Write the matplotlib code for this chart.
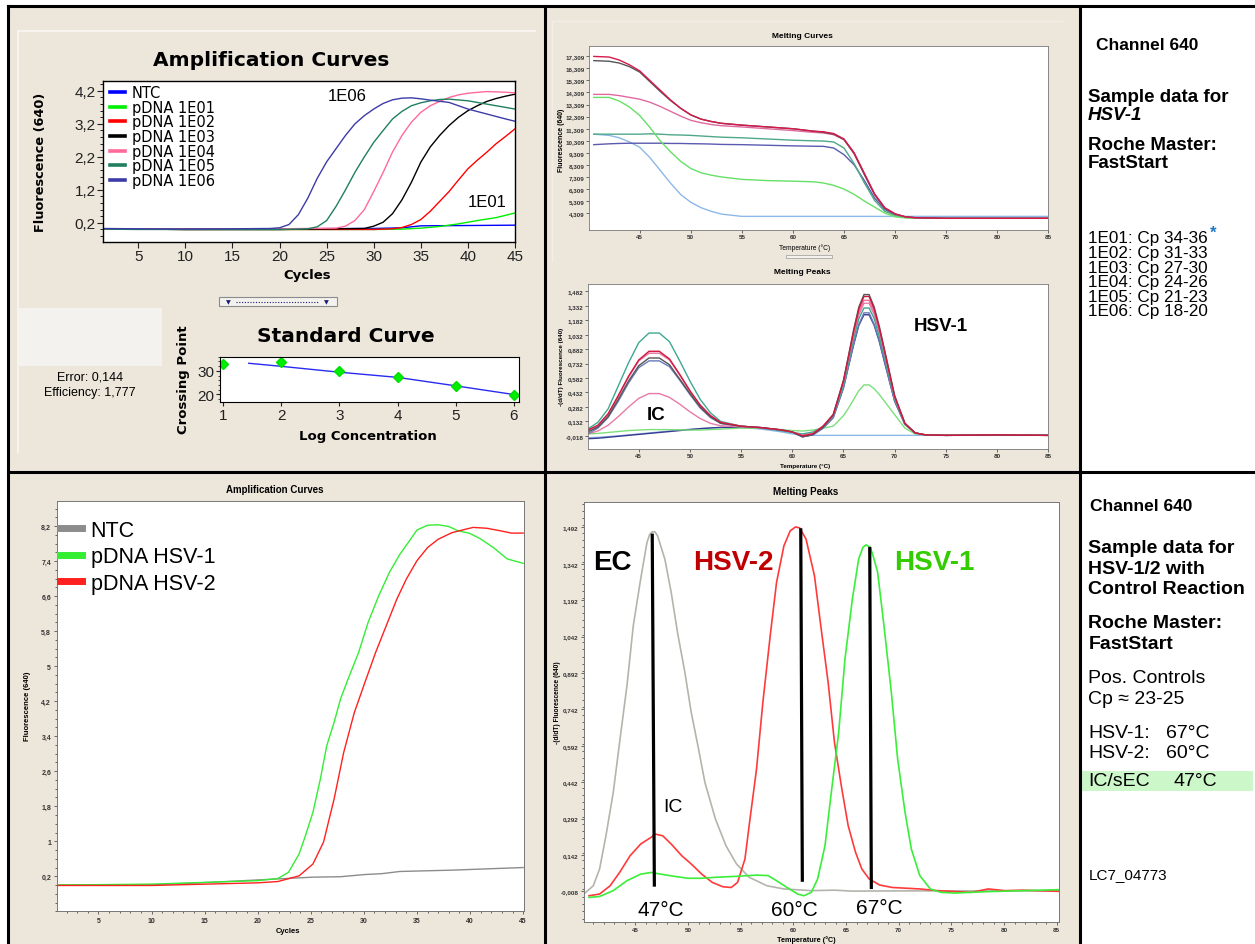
import matplotlib
matplotlib.use("Agg")
import matplotlib.pyplot as plt
from matplotlib.patches import Rectangle
from matplotlib.lines import Line2D
from matplotlib.ticker import MultipleLocator

plt.rcParams['font.family'] = ['Liberation Sans', 'DejaVu Sans']

# ---------------- DATA ----------------
# Top-left amplification curves (cycles, fluorescence)
AMP1_LABELS = ["NTC", "pDNA 1E01", "pDNA 1E02", "pDNA 1E03", "pDNA 1E04", "pDNA 1E05", "pDNA 1E06"]
AMP1_NTC_X = [1, 10, 20, 30, 33, 34, 35, 45]
AMP1_NTC_Y = [0.02, 0.02, 0.02, 0.03, 0.05, 0.08, 0.11, 0.13]
AMP1_E01_X = [1, 10, 20, 30, 33, 35, 37, 39, 41, 43, 45]
AMP1_E01_Y = [0.02, 0.0, 0.0, 0.0, 0.01, 0.04, 0.09, 0.17, 0.27, 0.36, 0.5]
AMP1_E02_X = [1, 10, 20, 30, 32, 33, 34, 35, 36, 37, 38, 39, 40, 41, 42, 43, 44, 45]
AMP1_E02_Y = [0.02, 0.0, 0.0, 0.0, 0.02, 0.06, 0.15, 0.3, 0.55, 0.85, 1.15, 1.5, 1.84, 2.1, 2.34, 2.6, 2.82, 3.05]
AMP1_E03_X = [1, 10, 20, 29, 30, 31, 32, 33, 34, 35, 36, 37, 38, 39, 40, 41, 42, 43, 44, 45]
AMP1_E03_Y = [0.02, 0.0, 0.0, 0.03, 0.1, 0.22, 0.48, 0.9, 1.43, 2.04, 2.5, 2.85, 3.15, 3.4, 3.6, 3.75, 3.88, 3.97, 4.04, 4.1]
AMP1_E04_X = [1, 10, 20, 26, 27, 28, 29, 30, 31, 32, 33, 34, 35, 36, 37, 38, 39, 40, 42, 44, 45]
AMP1_E04_Y = [0.02, 0.01, 0.02, 0.04, 0.1, 0.27, 0.6, 1.15, 1.73, 2.35, 2.85, 3.25, 3.55, 3.75, 3.88, 4.0, 4.08, 4.13, 4.18, 4.16, 4.14]
AMP1_E05_X = [1, 5, 10, 15, 20, 23, 24, 25, 26, 27, 28, 29, 30, 31, 32, 33, 34, 35, 36, 37, 38, 40, 42, 44, 45]
AMP1_E05_Y = [0.01, 0.0, 0.0, 0.0, 0.0, 0.02, 0.08, 0.27, 0.7, 1.2, 1.73, 2.2, 2.64, 3.0, 3.35, 3.58, 3.75, 3.84, 3.9, 3.94, 3.95, 3.9, 3.8, 3.7, 3.65]
AMP1_E06_X = [1, 5, 10, 15, 19, 20, 21, 22, 23, 24, 25, 26, 27, 28, 29, 30, 31, 32, 33, 34, 35, 36, 38, 40, 42, 44, 45]
AMP1_E06_Y = [0.03, 0.02, 0.01, 0.02, 0.03, 0.05, 0.15, 0.45, 0.95, 1.55, 2.05, 2.45, 2.85, 3.2, 3.45, 3.65, 3.82, 3.93, 3.98, 3.99, 3.96, 3.92, 3.85, 3.65, 3.5, 3.35, 3.28]
AMP1_COLORS = ["#0000FF", "#00F000", "#FF0000", "#000000", "#FF6A9A", "#1F7F5F", "#3C3CA8"]
AMP1_YTICKS = [0.2, 1.2, 2.2, 3.2, 4.2]
AMP1_YTICKLABELS = ["0,2", "1,2", "2,2", "3,2", "4,2"]
AMP1_XTICKS = [5, 10, 15, 20, 25, 30, 35, 40, 45]

# Standard curve
STD_LOGC = [1, 2, 3, 4, 5, 6]
STD_CP = [32.9, 33.6, 29.9, 27.3, 23.7, 19.6]
STD_FIT_X = [1.44, 2, 3, 4, 5, 6]
STD_FIT_Y = [33.2, 31.9, 29.4, 27.2, 23.6, 19.9]

# Top melting curves (temperature grid shared)
MC_T = [40.5, 42, 43, 44, 45, 46, 47, 48, 49, 50, 51, 52, 53, 55, 57.5, 60, 62, 63, 64, 65, 66, 67, 68, 69, 70, 71, 72, 75, 80, 85]
MC_RED = [17.3, 17.25, 17.0, 16.6, 16.1, 15.3, 14.5, 13.7, 13.0, 12.45, 12.1, 11.9, 11.75, 11.6, 11.45, 11.3, 11.1, 11.05, 10.9, 10.45, 9.3, 7.6, 5.9, 4.75, 4.25, 4.0, 3.92, 3.87, 3.87, 3.87]
MC_BLACK = [16.95, 16.9, 16.75, 16.45, 16.0, 15.2, 14.4, 13.65, 13.0, 12.45, 12.1, 11.9, 11.75, 11.6, 11.45, 11.3, 11.1, 11.0, 10.85, 10.4, 9.25, 7.5, 5.85, 4.7, 4.22, 4.0, 3.92, 3.87, 3.87, 3.87]
MC_PINK = [14.15, 14.15, 14.05, 13.9, 13.75, 13.5, 13.15, 12.75, 12.35, 12.0, 11.8, 11.65, 11.55, 11.45, 11.3, 11.15, 11.0, 10.95, 10.8, 10.4, 9.2, 7.5, 5.8, 4.7, 4.2, 3.98, 3.9, 3.87, 3.87, 3.87]
MC_GREEN = [13.9, 13.9, 13.6, 13.1, 12.4, 11.4, 10.3, 9.4, 8.6, 8.0, 7.65, 7.45, 7.3, 7.1, 7.0, 6.95, 6.9, 6.8, 6.6, 6.3, 5.85, 5.3, 4.8, 4.3, 4.0, 3.9, 3.87, 3.87, 3.87, 3.87]
MC_TEAL = [10.85, 10.85, 10.85, 10.85, 10.85, 10.88, 10.85, 10.8, 10.78, 10.75, 10.7, 10.65, 10.6, 10.55, 10.45, 10.35, 10.3, 10.28, 10.2, 9.7, 8.4, 6.8, 5.35, 4.45, 4.1, 3.95, 3.9, 3.87, 3.87, 3.87]
MC_NAVY = [9.98, 10.05, 10.08, 10.1, 10.1, 10.1, 10.1, 10.08, 10.08, 10.06, 10.05, 10.03, 10.0, 9.98, 9.93, 9.88, 9.85, 9.84, 9.7, 9.15, 8.3, 7.0, 5.55, 4.6, 4.15, 3.98, 3.9, 3.87, 3.87, 3.87]
MC_LBLUE = [10.85, 10.75, 10.55, 10.2, 9.76, 8.9, 7.85, 6.8, 5.85, 5.2, 4.75, 4.45, 4.22, 4.03, 4.03, 4.03, 4.03, 4.03, 4.03, 4.03, 4.03, 4.03, 4.03, 4.03, 4.03, 4.03, 4.03, 4.03, 4.03, 4.03]
MC_YTICKS = [4.309, 5.309, 6.309, 7.309, 8.309, 9.309, 10.309, 11.309, 12.309, 13.309, 14.309, 15.309, 16.309, 17.309]

# Top melting peaks (temperature grid shared)
MP_T = [40, 41, 42, 43, 44, 45, 46, 47, 48, 49, 50, 51, 52, 53, 55, 57, 59, 60, 61, 62, 63, 64, 65, 65.5, 66, 66.5, 67, 67.5, 68, 68.5, 69, 70, 71, 72, 73, 75, 80, 85]
MP_TEAL = [0.05, 0.12, 0.26, 0.5, 0.74, 0.95, 1.05, 1.05, 0.96, 0.76, 0.55, 0.36, 0.22, 0.13, 0.08, 0.065, 0.03, 0.015, 0.0, 0.02, 0.07, 0.19, 0.5, 0.75, 0.99, 1.2, 1.31, 1.31, 1.2, 1.01, 0.8, 0.36, 0.1, 0.01, -0.01, -0.015, -0.012, -0.015]
MP_RED = [0.04, 0.09, 0.21, 0.4, 0.6, 0.77, 0.86, 0.86, 0.78, 0.62, 0.45, 0.3, 0.19, 0.12, 0.08, 0.065, 0.04, 0.02, -0.02, 0.0, 0.08, 0.2, 0.55, 0.81, 1.07, 1.3, 1.43, 1.43, 1.3, 1.1, 0.87, 0.39, 0.11, 0.01, -0.01, -0.015, -0.01, -0.015]
MP_HOTPINK = [0.03, 0.08, 0.2, 0.39, 0.59, 0.76, 0.84, 0.84, 0.77, 0.61, 0.44, 0.3, 0.19, 0.12, 0.08, 0.065, 0.04, 0.02, -0.015, 0.005, 0.08, 0.2, 0.54, 0.79, 1.04, 1.27, 1.39, 1.39, 1.27, 1.07, 0.85, 0.38, 0.11, 0.01, -0.01, -0.015, -0.01, -0.015]
MP_BLACK = [0.02, 0.07, 0.18, 0.36, 0.55, 0.71, 0.79, 0.79, 0.72, 0.57, 0.42, 0.28, 0.18, 0.11, 0.08, 0.065, 0.04, 0.02, -0.03, -0.005, 0.07, 0.2, 0.56, 0.82, 1.09, 1.32, 1.45, 1.45, 1.32, 1.12, 0.88, 0.4, 0.11, 0.01, -0.01, -0.015, -0.012, -0.015]
MP_SLATE = [0.0, 0.06, 0.17, 0.34, 0.53, 0.69, 0.76, 0.76, 0.7, 0.56, 0.41, 0.27, 0.17, 0.11, 0.08, 0.065, 0.04, 0.02, -0.03, -0.01, 0.06, 0.17, 0.48, 0.71, 0.94, 1.14, 1.26, 1.26, 1.14, 0.97, 0.76, 0.34, 0.1, 0.01, -0.01, -0.015, -0.012, -0.015]
MP_LPINK = [0.0, 0.03, 0.09, 0.18, 0.28, 0.37, 0.42, 0.42, 0.38, 0.31, 0.23, 0.16, 0.11, 0.085, 0.075, 0.065, 0.04, 0.02, -0.015, 0.005, 0.08, 0.2, 0.53, 0.78, 1.02, 1.24, 1.36, 1.36, 1.24, 1.05, 0.83, 0.37, 0.1, 0.01, -0.01, -0.015, -0.01, -0.015]
MP_LGREEN = [0.0, 0.005, 0.015, 0.025, 0.035, 0.04, 0.045, 0.045, 0.045, 0.042, 0.04, 0.04, 0.045, 0.05, 0.06, 0.06, 0.045, 0.035, 0.03, 0.04, 0.06, 0.08, 0.19, 0.27, 0.36, 0.45, 0.51, 0.51, 0.47, 0.41, 0.34, 0.2, 0.06, 0.0, -0.012, -0.015, -0.012, -0.015]
MP_NAVY = [-0.05, -0.045, -0.035, -0.025, -0.015, -0.005, 0.005, 0.015, 0.025, 0.035, 0.045, 0.055, 0.062, 0.068, 0.07, 0.06, 0.04, 0.02, -0.03, -0.01, 0.06, 0.17, 0.48, 0.71, 0.93, 1.13, 1.24, 1.24, 1.13, 0.96, 0.75, 0.34, 0.1, 0.01, -0.01, -0.015, -0.012, -0.015]
MP_LBLUE = [-0.04, -0.035, -0.028, -0.02, -0.01, 0.0, 0.01, 0.02, 0.03, 0.04, 0.048, 0.055, 0.06, 0.065, 0.068, 0.05, 0.02, 0.0, -0.015, -0.015, -0.015, -0.015, -0.015, -0.015, -0.015, -0.015, -0.015, -0.015, -0.015, -0.015, -0.015, -0.015, -0.015, -0.015, -0.015, -0.015, -0.015, -0.015]
MP_YTICKS = [-0.018, 0.132, 0.282, 0.432, 0.582, 0.732, 0.882, 1.032, 1.182, 1.332, 1.482]

# Bottom-left amplification curves
AMP2_LABELS = ["NTC", "pDNA HSV-1", "pDNA HSV-2"]
AMP2_NTC_X = [1, 10.5, 15.4, 20.3, 25.2, 27.8, 30.1, 31.7, 33.4, 38.3, 45]
AMP2_NTC_Y = [0.0, 0.01, 0.06, 0.12, 0.18, 0.19, 0.24, 0.26, 0.31, 0.34, 0.4]
AMP2_HSV1_X = [1, 10, 15, 20, 21.9, 22.9, 23.9, 24.5, 25.2, 25.9, 26.5, 27.2, 27.8, 28.5, 29.5, 30.4, 31.4, 32.4, 33.4, 34.4, 35, 36, 37, 38, 38.9, 39.9, 40.9, 42.2, 43.5, 45]
AMP2_HSV1_Y = [0.0, 0.02, 0.06, 0.1, 0.15, 0.29, 0.71, 1.13, 1.66, 2.42, 3.18, 3.72, 4.25, 4.7, 5.31, 6.0, 6.61, 7.14, 7.56, 7.9, 8.11, 8.22, 8.23, 8.19, 8.09, 8.04, 7.92, 7.71, 7.45, 7.35]
AMP2_HSV2_X = [1, 10, 20, 21.9, 23.9, 25.2, 26.2, 27.2, 28.1, 29.1, 30.1, 31.1, 32.1, 33.1, 34, 35, 36, 37, 38.3, 39.6, 40.3, 41.6, 42.9, 43.9, 45]
AMP2_HSV2_Y = [-0.01, -0.01, 0.05, 0.08, 0.21, 0.48, 0.98, 1.97, 3.03, 3.94, 4.63, 5.31, 5.92, 6.53, 6.99, 7.41, 7.71, 7.9, 8.05, 8.13, 8.17, 8.15, 8.09, 8.04, 8.04]
AMP2_COLORS = ["#8C8C8C", "#33EE33", "#FF2020"]
AMP2_YTICKS = [0.2, 1, 1.8, 2.6, 3.4, 4.2, 5, 5.8, 6.6, 7.4, 8.2]
AMP2_YTICKLABELS = ["0,2", "1", "1,8", "2,6", "3,4", "4,2", "5", "5,8", "6,6", "7,4", "8,2"]

# Bottom melting peaks
MP2_EC_T = [40.1, 41.0, 41.6, 42.2, 42.9, 43.5, 44.2, 44.8, 45.5, 46.1, 46.35, 46.6, 46.85, 47.1, 47.8, 48.4, 49.0, 49.7, 50.3, 51.0, 51.6, 52.6, 53.6, 54.6, 55.8, 57.5, 59.1, 61.7, 63.9, 65.6, 70, 75, 80, 85.2]
MP2_EC_Y = [-0.019, 0.015, 0.084, 0.22, 0.40, 0.606, 0.84, 1.087, 1.279, 1.43, 1.462, 1.474, 1.474, 1.458, 1.361, 1.224, 1.059, 0.894, 0.73, 0.578, 0.441, 0.29, 0.18, 0.105, 0.05, 0.015, 0.002, -0.005, -0.003, -0.007, -0.006, -0.006, -0.006, -0.006]
MP2_HSV2_T = [40.6, 41.6, 42.6, 43.5, 44.5, 45.5, 46.5, 46.9, 47.6, 48.4, 49.4, 50.3, 51.3, 52.3, 53.3, 54.1, 54.7, 55.4, 55.8, 56.5, 57.1, 57.8, 58.4, 59.1, 59.7, 60.2, 60.6, 61.2, 62.0, 62.6, 63.3, 63.9, 64.6, 65.2, 65.9, 66.5, 67.2, 68.2, 69.4, 72.0, 73.7, 76.9, 78.5, 80.1, 81.8, 85.2]
MP2_HSV2_Y = [-0.026, -0.019, 0.015, 0.07, 0.139, 0.187, 0.215, 0.228, 0.221, 0.187, 0.139, 0.105, 0.063, 0.029, 0.011, 0.008, 0.029, 0.125, 0.263, 0.496, 0.77, 1.046, 1.265, 1.416, 1.478, 1.494, 1.49, 1.444, 1.293, 1.087, 0.853, 0.606, 0.414, 0.263, 0.153, 0.084, 0.043, 0.018, 0.008, 0.002, -0.005, -0.012, 0.002, -0.005, -0.003, -0.008]
MP2_HSV1_T = [40.6, 41.6, 42.9, 44.2, 45.5, 46.5, 47.4, 48.7, 50.0, 51.3, 52.6, 54.6, 56.5, 57.6, 58.4, 59.4, 60.4, 61.0, 61.7, 62.3, 63.0, 63.6, 64.3, 64.9, 65.6, 66.2, 66.6, 66.9, 67.3, 67.6, 68.0, 68.6, 69.3, 69.9, 70.6, 71.2, 72.0, 73.0, 74.0, 75.3, 78.5, 81.8, 85.2]
MP2_HSV1_Y = [-0.033, -0.029, -0.005, 0.036, 0.063, 0.07, 0.063, 0.054, 0.046, 0.046, 0.05, 0.054, 0.059, 0.057, 0.036, 0.008, -0.019, -0.026, -0.012, 0.043, 0.18, 0.4, 0.647, 0.95, 1.197, 1.362, 1.41, 1.42, 1.41, 1.37, 1.307, 1.087, 0.812, 0.537, 0.318, 0.166, 0.057, 0.002, -0.012, -0.015, -0.009, -0.005, -0.001]
MP2_COLORS = ["#B4B4AC", "#FF3A3A", "#3AEE3A"]
MP2_YTICKS = [-0.008, 0.142, 0.292, 0.442, 0.592, 0.742, 0.892, 1.042, 1.192, 1.342, 1.492]
PEAK_TEMPS = [47, 60, 67]

TEMP_TICKS = [45, 50, 55, 60, 65, 70, 75, 80, 85]

# ---------------- FIGURE ----------------
W, H = 1255, 945
fig = plt.figure(figsize=(W / 100, H / 100), dpi=100)
fig.patch.set_facecolor("white")
BEIGE = "#ECE6DB"
DV = "DejaVu Sans"


def add_ax(l, t, r, b):
    return fig.add_axes([l / W, 1 - b / H, (r - l) / W, (b - t) / H])


def frect(l, t, r, b, **kw):
    fig.add_artist(Rectangle((l / W, 1 - b / H), (r - l) / W, (b - t) / H,
                             transform=fig.transFigure, **kw))


def fline(x1, y1, x2, y2, **kw):
    fig.add_artist(Line2D([x1 / W, x2 / W], [1 - y1 / H, 1 - y2 / H],
                          transform=fig.transFigure, **kw))


def ftext(x, y, s, **kw):
    kw.setdefault("ha", "center")
    kw.setdefault("va", "center")
    fig.text(x / W, 1 - y / H, s, **kw)


def comma(v, fmt):
    return (fmt % v).replace(".", ",")


# Background
frect(8, 7, 1080, 945, facecolor=BEIGE, edgecolor="none", zorder=0)
fline(18, 32, 535, 32, color="#FAF8F4", lw=1.2, zorder=1)
fline(18, 32, 18, 453, color="#FAF8F4", lw=1.2, zorder=1)
fline(552, 22, 1062, 22, color="#F3EFE8", lw=1.0, zorder=1)
fline(552, 22, 552, 262, color="#F3EFE8", lw=1.0, zorder=1)

# ---------- Top-left amplification ----------
ax = add_ax(102.5, 82, 515, 243)
series = [(AMP1_NTC_X, AMP1_NTC_Y), (AMP1_E01_X, AMP1_E01_Y), (AMP1_E02_X, AMP1_E02_Y),
          (AMP1_E03_X, AMP1_E03_Y), (AMP1_E04_X, AMP1_E04_Y), (AMP1_E05_X, AMP1_E05_Y),
          (AMP1_E06_X, AMP1_E06_Y)]
for (xs, ys), c, lab in zip(series, AMP1_COLORS, AMP1_LABELS):
    ax.plot(xs, ys, color=c, lw=1.0, label=lab)
ax.set_xlim(1.2, 45)
ax.set_ylim(-0.38, 4.5)
ax.set_xticks(AMP1_XTICKS)
ax.set_yticks(AMP1_YTICKS)
ax.set_yticklabels(AMP1_YTICKLABELS)
ax.yaxis.set_minor_locator(MultipleLocator(0.2))
ax.tick_params(labelsize=11, length=4, width=0.8, pad=1, colors="#222222")
ax.tick_params(which="minor", length=2, width=0.6)
for s in ax.spines.values():
    s.set_linewidth(1.0)
leg = ax.legend(loc="upper left", bbox_to_anchor=(0.004, 1.012), frameon=False, handlelength=1.0,
                handletextpad=0.5, labelspacing=-0.02, borderaxespad=0.0,
                prop={"family": DV, "size": 10.5})
for h in leg.legend_handles:
    h.set_linewidth(2.6)
ax.text(27.2, 4.06, "1E06", fontsize=12, ha="center", va="center")
ax.text(42.0, 0.85, "1E01", fontsize=12, ha="center", va="center")
ftext(271, 61, "Amplification Curves", fontsize=14.5, fontweight="bold", family=DV)
ftext(41, 162, "Fluorescence (640)", fontsize=9.3, fontweight="bold", rotation=90, family=DV)
ftext(307, 276, "Cycles", fontsize=9.5, fontweight="bold", family=DV)

# slider widget
frect(219, 298, 336.5, 307, facecolor="#F4F2EC", edgecolor="#8C8C8C", lw=0.8, zorder=2)
ftext(228, 302.5, "▼", fontsize=4.5, color="#1A1A7A", family=DV, zorder=3)
ftext(326, 302.5, "▼", fontsize=4.5, color="#1A1A7A", family=DV, zorder=3)
fline(236, 302.5, 318, 302.5, color="#1A1A7A", lw=0.8, ls=(0, (1, 1.5)), zorder=3)

# ---------- Standard curve ----------
frect(19, 309, 161.6, 367, facecolor="#F4F2EE", edgecolor="none", zorder=1)
ftext(90, 378, "Error: 0,144", fontsize=9)
ftext(90, 393, "Efficiency: 1,777", fontsize=9)
axs = add_ax(219.7, 357.7, 518.6, 403.3)
axs.plot(STD_FIT_X, STD_FIT_Y, color="#2A2AF0", lw=1.0)
axs.plot(STD_LOGC, STD_CP, ls="none", marker="D", ms=5.5, color="#00EE00", mec="#00DD00")
axs.set_xlim(0.94, 6.08)
axs.set_ylim(16.6, 36)
axs.set_xticks(STD_LOGC)
axs.set_yticks([20, 30])
axs.yaxis.set_minor_locator(MultipleLocator(2))
axs.tick_params(labelsize=11, length=3, width=0.8, pad=1, colors="#222222")
axs.tick_params(which="minor", length=1.5, width=0.5)
ftext(345.8, 336.7, "Standard Curve", fontsize=14.5, fontweight="bold", family=DV)
ftext(183, 380, "Crossing Point", fontsize=9.5, fontweight="bold", rotation=90, family=DV)
ftext(367.7, 436.7, "Log Concentration", fontsize=9.5, fontweight="bold", family=DV)

# ---------- Top melting curves ----------
axm = add_ax(588.7, 46.7, 1048.2, 231)
mc_series = [(MC_LBLUE, "#8DB8E8"), (MC_NAVY, "#5A5AB0"), (MC_TEAL, "#4FA888"),
             (MC_GREEN, "#66E066"), (MC_PINK, "#E06AA0"), (MC_BLACK, "#555555"), (MC_RED, "#D8184A")]
for ys, c in mc_series:
    axm.plot(MC_T, ys, color=c, lw=1.0)
axm.set_xlim(40, 85)
axm.set_ylim(2.9, 18.19)
axm.set_xticks(TEMP_TICKS)
axm.set_yticks(MC_YTICKS)
axm.set_yticklabels([comma(v, "%.3f") for v in MC_YTICKS])
axm.tick_params(labelsize=4.5, length=2, width=0.5, pad=1, colors="#333333")
for lab in axm.get_xticklabels() + axm.get_yticklabels():
    lab.set_fontweight("bold")
for s in axm.spines.values():
    s.set_linewidth(0.6)
    s.set_color("#777777")
ftext(802.6, 36.7, "Melting Curves", fontsize=6, fontweight="bold")
ftext(561.7, 140, "Fluorescence (640)", fontsize=5, fontweight="bold", rotation=90)
ftext(805, 248, "Temperature (°C)", fontsize=4.8)
frect(785.5, 255.5, 831.6, 259, facecolor="#F4F2EC", edgecolor="#999999", lw=0.5, zorder=2)

# ---------- Top melting peaks ----------
axp = add_ax(587.6, 285, 1048.2, 450)
mp_series = [(MP_LBLUE, "#8DB8E8"), (MP_NAVY, "#3A3A90"), (MP_LGREEN, "#7BE07B"),
             (MP_LPINK, "#E87AA8"), (MP_SLATE, "#6A7AB8"), (MP_TEAL, "#3FA890"),
             (MP_HOTPINK, "#E8709A"), (MP_BLACK, "#555555"), (MP_RED, "#D01840")]
for ys, c in mp_series:
    axp.plot(MP_T, ys, color=c, lw=1.0)
axp.set_xlim(40, 85)
axp.set_ylim(-0.157, 1.56)
axp.set_xticks(TEMP_TICKS)
axp.set_yticks(MP_YTICKS)
axp.set_yticklabels([comma(v, "%.3f") for v in MP_YTICKS])
axp.tick_params(labelsize=4.5, length=2, width=0.5, pad=1, colors="#333333")
for lab in axp.get_xticklabels() + axp.get_yticklabels():
    lab.set_fontweight("bold")
for s in axp.spines.values():
    s.set_linewidth(0.6)
    s.set_color("#777777")
ftext(802, 272.7, "Melting Peaks", fontsize=6, fontweight="bold")
ftext(561, 367, "-(d/dT) Fluorescence (640)", fontsize=4.5, fontweight="bold", rotation=90)
ftext(805, 467, "Temperature (°C)", fontsize=4.5, fontweight="bold")
ftext(940.8, 326.7, "HSV-1", fontsize=13.5, fontweight="bold")
ftext(655.9, 416, "IC", fontsize=13.5, fontweight="bold")

# ---------- Bottom-left amplification ----------
axa = add_ax(56.7, 501.7, 524.2, 912.3)
for (xs, ys), c, lab in zip([(AMP2_NTC_X, AMP2_NTC_Y), (AMP2_HSV1_X, AMP2_HSV1_Y), (AMP2_HSV2_X, AMP2_HSV2_Y)],
                            AMP2_COLORS, AMP2_LABELS):
    axa.plot(xs, ys, color=c, lw=1.0, label=lab)
axa.set_xlim(1.07, 45.1)
axa.set_ylim(-0.6, 8.78)
axa.set_xticks(AMP1_XTICKS)
axa.set_yticks(AMP2_YTICKS)
axa.set_yticklabels(AMP2_YTICKLABELS)
axa.yaxis.set_minor_locator(MultipleLocator(0.2))
axa.xaxis.set_minor_locator(MultipleLocator(1))
axa.tick_params(labelsize=5, length=2.5, width=0.5, pad=1.5, colors="#333333")
axa.tick_params(which="minor", length=1.2, width=0.4)
for lab in axa.get_xticklabels() + axa.get_yticklabels():
    lab.set_fontweight("bold")
for s in axa.spines.values():
    s.set_linewidth(0.7)
    s.set_color("#777777")
leg2 = axa.legend(loc="upper left", bbox_to_anchor=(-0.011, 0.975), fontsize=15.5, frameon=False,
                  handlelength=1.0, handletextpad=0.42, labelspacing=0.26, borderaxespad=0.0)
for h in leg2.legend_handles:
    h.set_linewidth(5)
ftext(274.6, 490, "Amplification Curves", fontsize=7, fontweight="bold")
ftext(27.8, 706.7, "Fluorescence (640)", fontsize=5.5, fontweight="bold", rotation=90)
ftext(288.5, 931.7, "Cycles", fontsize=5.5, fontweight="bold")

# ---------- Bottom melting peaks ----------
axb = add_ax(584.2, 502.7, 1058.5, 922.7)
for (xs, ys), c in zip([(MP2_EC_T, MP2_EC_Y), (MP2_HSV2_T, MP2_HSV2_Y), (MP2_HSV1_T, MP2_HSV1_Y)], MP2_COLORS):
    axb.plot(xs, ys, color=c, lw=1.2)
axb.set_xlim(40.14, 85.17)
axb.set_ylim(-0.133, 1.598)
axb.set_xticks(TEMP_TICKS)
axb.set_yticks(MP2_YTICKS)
axb.set_yticklabels([comma(v, "%.3f") for v in MP2_YTICKS])
axb.yaxis.set_minor_locator(MultipleLocator(0.03))
axb.xaxis.set_minor_locator(MultipleLocator(1))
axb.tick_params(labelsize=4.5, length=2.5, width=0.5, pad=1.5, colors="#333333")
axb.tick_params(which="minor", length=1.2, width=0.4)
for lab in axb.get_xticklabels() + axb.get_yticklabels():
    lab.set_fontweight("bold")
for s in axb.spines.values():
    s.set_linewidth(0.7)
    s.set_color("#777777")
axb.plot([46.6, 46.8], [1.46, 0.018], color="black", lw=2.3)
axb.plot([60.7, 60.85], [1.482, 0.038], color="black", lw=2.3)
axb.plot([67.25, 67.4], [1.405, 0.008], color="black", lw=2.3)
axb.text(42.8, 1.35, "EC", fontsize=20, fontweight="bold", color="black", ha="center", va="center")
axb.text(54.3, 1.35, "HSV-2", fontsize=20, fontweight="bold", color="#C00000", ha="center", va="center")
axb.text(73.4, 1.35, "HSV-1", fontsize=20, fontweight="bold", color="#33CC00", ha="center", va="center")
axb.text(48.6, 0.34, "IC", fontsize=14, ha="center", va="center")
for t, xx, yy in zip(PEAK_TEMPS, [47.4, 60.1, 68.2], [-0.082, -0.082, -0.075]):
    axb.text(xx, yy, "%d°C" % t, fontsize=15, ha="center", va="center")
ftext(806, 491.7, "Melting Peaks", fontsize=7, fontweight="bold")
ftext(557.5, 703, "-(d/dT) Fluorescence (640)", fontsize=4.8, fontweight="bold", rotation=90)
ftext(806, 940, "Temperature (°C)", fontsize=5.2, fontweight="bold")

# ---------- Right text panels ----------
ftext(1096, 45.7, "Channel 640", fontsize=12.5, fontweight="bold", ha="left")
ftext(1088, 98, "Sample data for", fontsize=13.5, fontweight="bold", ha="left")
ftext(1088, 115.7, "HSV-1", fontsize=13.5, fontweight="bold", style="italic", ha="left")
ftext(1088, 145.7, "Roche Master:", fontsize=13.5, fontweight="bold", ha="left")
ftext(1088, 163.3, "FastStart", fontsize=13.5, fontweight="bold", ha="left")
cp_lines = ["1E01: Cp 34-36", "1E02: Cp 31-33", "1E03: Cp 27-30", "1E04: Cp 24-26", "1E05: Cp 21-23", "1E06: Cp 18-20"]
for i, s in enumerate(cp_lines):
    ftext(1088, 239 + i * 14.6, s, fontsize=12.3, ha="left")
ftext(1209.5, 233, "*", fontsize=12, fontweight="bold", color="#1E78C8", ha="left")

frect(1080, 771.7, 1253, 792.3, facecolor="#CCF7C8", edgecolor="none", zorder=1)
ftext(1089.7, 506.7, "Channel 640", fontsize=12.5, fontweight="bold", ha="left")
for s, yy in [("Sample data for", 548.3), ("HSV-1/2 with", 569), ("Control Reaction", 590),
              ("Roche Master:", 623.3), ("FastStart", 644.3)]:
    ftext(1088.5, yy, s, fontsize=14, fontweight="bold", ha="left")
ftext(1088.5, 678.3, "Pos. Controls", fontsize=14, ha="left")
ftext(1088.5, 699.3, "Cp ≈ 23-25", fontsize=14, ha="left")
ftext(1088.5, 733.3, "HSV-1:", fontsize=14, ha="left")
ftext(1166, 733.3, "67°C", fontsize=14, ha="left")
ftext(1088.5, 753.3, "HSV-2:", fontsize=14, ha="left")
ftext(1166, 753.3, "60°C", fontsize=14, ha="left")
ftext(1088.5, 781.7, "IC/sEC", fontsize=14, ha="left", zorder=2)
ftext(1174, 781.7, "47°C", fontsize=14, ha="left", zorder=2)
ftext(1088.5, 875, "LC7_04773", fontsize=11, ha="left")

# ---------- Borders ----------
for (x1, y1, x2, y2) in [(8, 7, 8, 945), (8, 7, 1255, 7), (545, 7, 545, 945),
                         (1080, 7, 1080, 945), (8, 473, 1255, 473)]:
    fline(x1, y1, x2, y2, color="black", lw=2.2, zorder=10, solid_capstyle="projecting")

fig.savefig("out.png", dpi=100, facecolor=fig.get_facecolor())
